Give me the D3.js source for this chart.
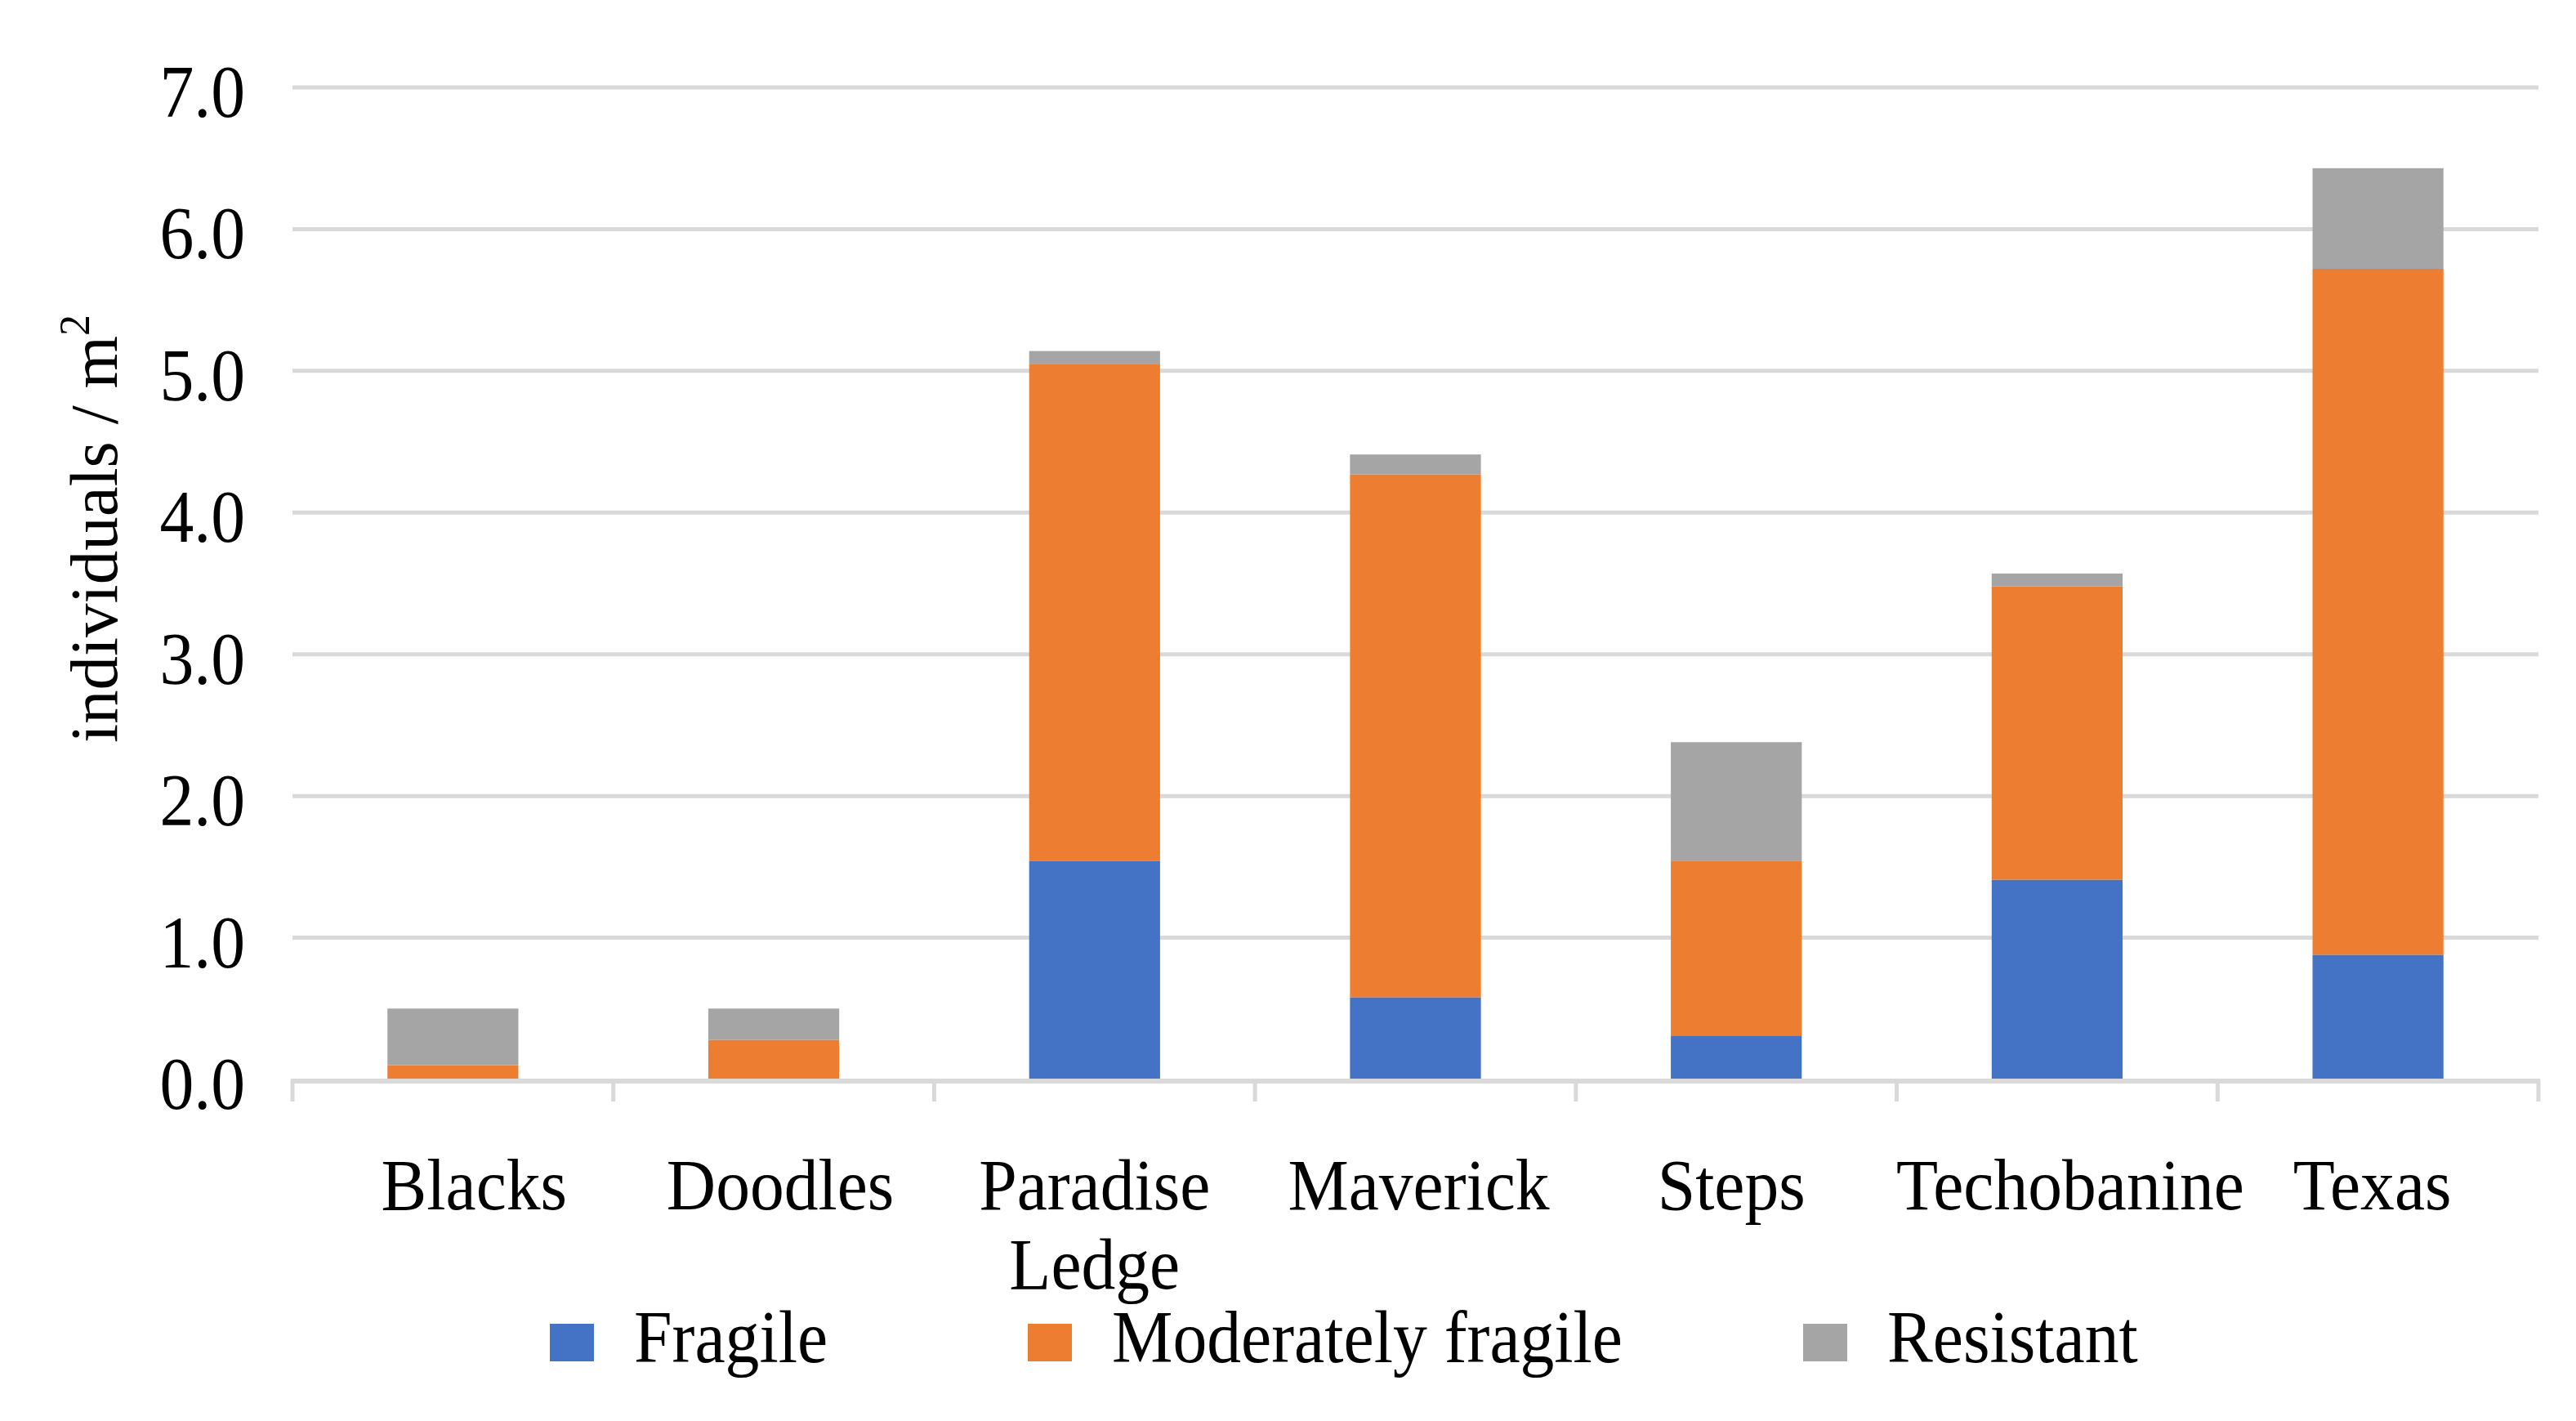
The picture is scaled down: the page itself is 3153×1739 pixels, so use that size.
<!DOCTYPE html>
<html>
<head>
<meta charset="utf-8">
<script src="https://cdn.jsdelivr.net/npm/d3@7"></script>
<style>
  html, body { margin: 0; padding: 0; background: #ffffff; }
  svg { display: block; }
  text { font-family: "Liberation Serif", "Times New Roman", serif; fill: #000; }
</style>
</head>
<body>
<script>
// ---- data ----
const categories = ["Blacks", "Doodles", "Paradise Ledge", "Maverick", "Steps", "Techobanine", "Texas"];
const seriesNames = ["Fragile", "Moderately fragile", "Resistant"];
const fragile    = [0.00, 0.00, 1.54, 0.58, 0.31, 1.41, 0.88];
const moderately = [0.10, 0.28, 3.51, 3.69, 1.23, 2.07, 4.84];
const resistant  = [0.40, 0.22, 0.09, 0.14, 0.84, 0.09, 0.71];
const yTicks = [0, 1, 2, 3, 4, 5, 6, 7];
const yTitle = "individuals / m";
const yTitleSup = "2";

// ---- layout ----
const W = 3153, H = 1739;
const plot = { left: 358, right: 3107, top: 107, bottom: 1321 };
const colors = ["#4472C4", "#ED7D31", "#A5A5A5"];
const gridColor = "#D9D9D9";
const sx = 0.93; // horizontal glyph compression of the reference
const labelNudge = [26, 8, 0, 4, -6, 16, -7];

const svg = d3.select("body").append("svg").attr("width", W).attr("height", H);

const x = d3.scaleBand().domain(categories).range([plot.left, plot.right])
  .paddingInner(0.592).paddingOuter(0.296);
const y = d3.scaleLinear().domain([0, 7]).range([plot.bottom, plot.top]);

// gridlines
svg.append("g").selectAll("line").data(yTicks.filter(d => d > 0)).join("line")
  .attr("x1", plot.left).attr("x2", plot.right)
  .attr("y1", d => y(d)).attr("y2", d => y(d))
  .attr("stroke", gridColor).attr("stroke-width", 5);

// stacked bars
const rows = categories.map((c, i) => ({ cat: c, Fragile: fragile[i], "Moderately fragile": moderately[i], Resistant: resistant[i] }));
const stack = d3.stack().keys(seriesNames)(rows);
svg.append("g").selectAll("g").data(stack).join("g")
  .attr("fill", (d, i) => colors[i])
  .selectAll("rect").data(d => d).join("rect")
  .attr("x", d => x(d.data.cat))
  .attr("width", x.bandwidth())
  .attr("y", d => y(d[1]))
  .attr("height", d => Math.max(0, y(d[0]) - y(d[1])));

// x axis baseline + boundary ticks
const gap = (x.step() - x.bandwidth()) / 2;
const bounds = categories.map(c => x(c) - gap).concat([x(categories[categories.length - 1]) + x.bandwidth() + gap]);
svg.append("line")
  .attr("x1", plot.left - 2).attr("x2", plot.right + 2)
  .attr("y1", y(0) + 2).attr("y2", y(0) + 2)
  .attr("stroke", gridColor).attr("stroke-width", 6);
svg.append("g").selectAll("line").data(bounds).join("line")
  .attr("x1", d => d).attr("x2", d => d)
  .attr("y1", y(0)).attr("y2", y(0) + 27)
  .attr("stroke", gridColor).attr("stroke-width", 5);

// y tick labels
svg.append("g").selectAll("text").data(yTicks).join("text")
  .attr("transform", d => `translate(300,${y(d) + 36}) scale(${sx},1)`)
  .attr("text-anchor", "end")
  .attr("font-size", 90)
  .text(d => d3.format(".1f")(d));

// category labels
const catG = svg.append("g").selectAll("g").data(categories).join("g")
  .attr("transform", (d, i) => `translate(${x(d) + x.bandwidth() / 2 + labelNudge[i]},1480) scale(0.95,1)`);
catG.each(function (d) {
  const lines = d.split(" ");
  const t = d3.select(this).append("text").attr("text-anchor", "middle").attr("font-size", 88);
  lines.forEach((ln, i) => t.append("tspan").attr("x", 0).attr("dy", i === 0 ? 0 : 97).text(ln));
});

// y axis title
const yt = svg.append("text")
  .attr("transform", `translate(143,${(388 + 906) / 2}) rotate(-90)`)
  .attr("text-anchor", "middle")
  .attr("font-size", 83);
yt.append("tspan").text(yTitle);
yt.append("tspan").attr("font-size", 52).attr("dy", -34).text(yTitleSup);

// legend
const legendX = [673, 1258, 2207];
const leg = svg.append("g").selectAll("g").data(seriesNames).join("g");
leg.append("rect")
  .attr("x", (d, i) => legendX[i]).attr("y", 1620)
  .attr("width", 54).attr("height", 46)
  .attr("fill", (d, i) => colors[i]);
leg.append("text")
  .attr("transform", (d, i) => `translate(${legendX[i] + 103},1667) scale(${sx},1)`)
  .attr("font-size", 90)
  .text(d => d);
</script>
</body>
</html>
